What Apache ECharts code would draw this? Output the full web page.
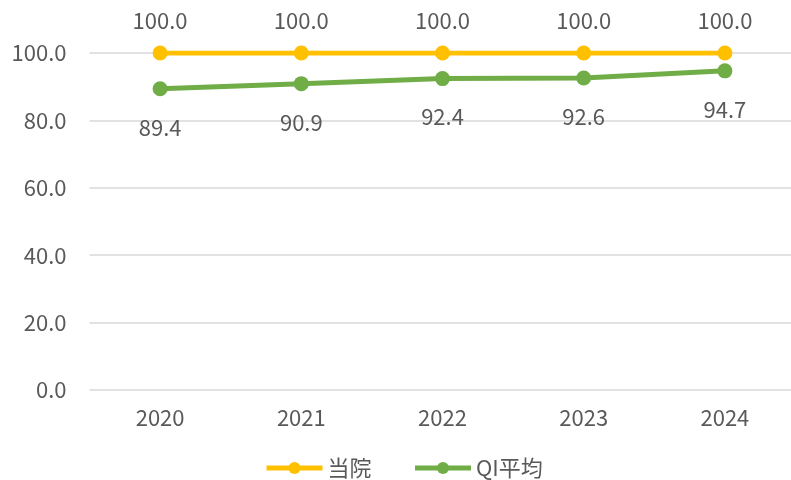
<!DOCTYPE html>
<html><head><meta charset="utf-8">
<script src="https://cdn.jsdelivr.net/npm/echarts@6/dist/echarts.min.js"></script>
<style>html,body{margin:0;padding:0;background:#fff}#c{width:791px;height:480px}</style>
</head><body><div id="c"></div>
<script>
const categories = ['2020','2021','2022','2023','2024'];
const seriesNames = ['当院','QI平均'];
const hospital = [100.0,100.0,100.0,100.0,100.0];
const qiAverage = [89.4,90.9,92.4,92.6,94.7];
const yTicks = [0,20,40,60,80,100];

const font = '"Noto Sans CJK JP","Noto Sans",sans-serif';
const txt = '#595959';
const fs = 22;
const chart = echarts.init(document.getElementById('c'), null, {renderer:'canvas'});
chart.setOption({
  animation:false,
  textStyle:{fontFamily:font},
  grid:{left:89.5, top:53, width:706, height:337, containLabel:false, outerBoundsMode:'none'},
  legend:{
    top:452, left:259, itemWidth:56, itemHeight:15, itemGap:41,
    lineStyle:{width:5},
    textStyle:{fontSize:fs, color:txt, fontFamily:font},
    data:seriesNames
  },
  xAxis:{
    type:'category', data:categories, boundaryGap:true,
    axisLine:{show:false}, axisTick:{show:false},
    axisLabel:{fontSize:fs, color:txt, margin:17, fontFamily:font}
  },
  yAxis:{
    type:'value', min:yTicks[0], max:yTicks[yTicks.length-1], interval:20,
    axisLine:{show:false}, axisTick:{show:false},
    splitLine:{lineStyle:{color:'#d9d9d9', width:1.5}},
    axisLabel:{fontSize:fs, color:txt, margin:23, fontFamily:font, formatter:v=>v.toFixed(1)}
  },
  series:[
    {name:seriesNames[0], type:'line', data:hospital, symbol:'circle', symbolSize:15,
     itemStyle:{color:'#FFC000'}, lineStyle:{width:5, color:'#FFC000'},
     label:{show:true, position:'top', distance:14, fontSize:fs, color:txt, fontFamily:font, formatter:p=>p.value.toFixed(1)}},
    {name:seriesNames[1], type:'line', data:qiAverage, symbol:'circle', symbolSize:15,
     itemStyle:{color:'#70AD47'}, lineStyle:{width:5, color:'#70AD47'},
     label:{show:true, position:'bottom', distance:20, fontSize:fs, color:txt, fontFamily:font, formatter:p=>p.value.toFixed(1)}}
  ]
});
</script></body></html>
